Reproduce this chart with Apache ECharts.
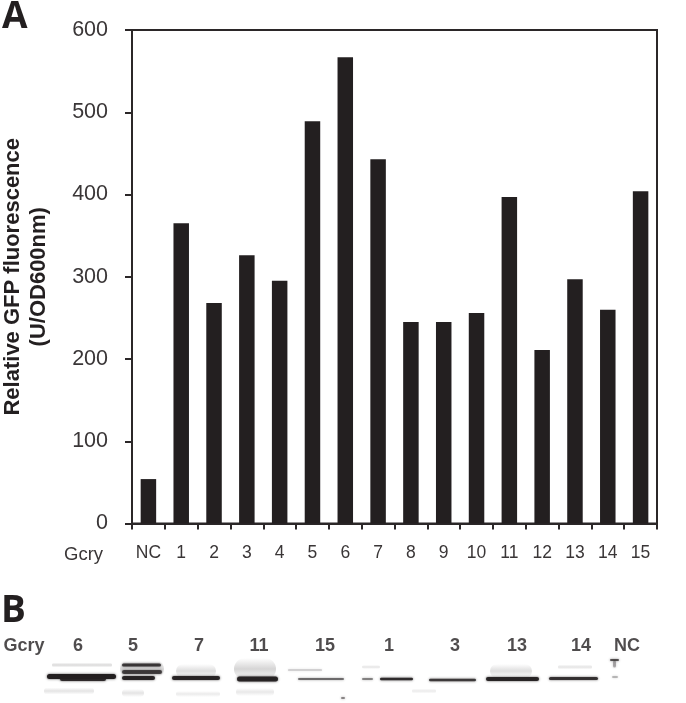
<!DOCTYPE html>
<html><head><meta charset="utf-8">
<style>html,body{margin:0;padding:0;background:#fff}#c{width:686px;height:703px}</style>
<script src="https://cdn.jsdelivr.net/npm/echarts@6/dist/echarts.min.js"></script>
</head><body><div id="c"></div>
<script>
const categories = ['NC','1','2','3','4','5','6','7','8','9','10','11','12','13','14','15'];
const fluorescence = [54,365,268,326,295,489,567,443,245,245,256,397,211,297,260,404];
const yTicks = [0,100,200,300,400,500,600];
const blotLabels = ['Gcry','6','5','7','11','15','1','3','13','14','NC'];
const blotLabelX = [24,78,133,199,259,325,389,455,517,581,627];
// blot bands: [x start, x end, y centre, thickness, opacity]
const blotBands = [
  [47,116,676.5,5,1],[60,106,679,4,.9],[52,112,665,5,.17],
  [122,161,665,3,.8],[122,162,672,4,.75],[122,155,678,4,.95],[120,164,669,16,.19],
  [172,220,678,4,.95],[176,216,671,14,.15],
  [237,278,679,5,.95],[234,276,669,22,.19],
  [298,344,679,2,.55],[288,322,670,1,.3],
  [362,373,679,1.5,.6],[380,413,679,2.5,.9],[362,380,667,4,.12],
  [429,476,680,2.5,.8],
  [486,539,679,4,.95],[490,532,671,14,.15],
  [549,598,678.5,3,.85],[558,592,667,5,.12],
  [610,619,660,2,.7],[613,616,664,7,.3],[612,618,677,2,.25],
  [44,94,691,7,.12],[122,144,693,8,.12],[176,220,694,6,.09],[236,274,692,8,.1],[341,345,698,2,.45],[412,436,691,5,.09]
];

const chart = echarts.init(document.getElementById('c'), null, {renderer:'canvas'});
const FONT = '"Liberation Sans", Arial, sans-serif';
chart.setOption({
  animation:false,
  backgroundColor:'#fff',
  grid:[
    {left:132,right:29,top:30,height:493.5,show:true,borderColor:'#2b2728',borderWidth:2,backgroundColor:'transparent',outerBoundsMode:'none'},
    {left:0,top:640,width:686,height:63,show:false,outerBoundsMode:'none'}
  ],
  xAxis:[
    {type:'category',gridIndex:0,data:categories,
     axisLine:{lineStyle:{color:'#2b2728',width:2}},
     axisTick:{show:true,length:6,alignWithLabel:false,lineStyle:{color:'#2b2728',width:2}},
     axisLabel:{color:'#3a3637',fontFamily:FONT,fontSize:17.5,margin:21,interval:0,hideOverlap:false}},
    {type:'value',gridIndex:1,min:0,max:686,show:false}
  ],
  yAxis:[
    {type:'value',gridIndex:0,min:0,max:600,interval:100,
     name:'Relative GFP fluorescence\n(U/OD600nm)',nameLocation:'middle',nameGap:80,nameMoveOverlap:false,
     nameTextStyle:{color:'#231f20',fontFamily:FONT,fontSize:22,fontWeight:'bold',lineHeight:26},
     axisLine:{show:true,lineStyle:{color:'#2b2728',width:2}},
     axisTick:{show:true,length:7,lineStyle:{color:'#2b2728',width:2}},
     axisLabel:{color:'#3a3637',fontFamily:FONT,fontSize:21.5,margin:24,customValues:yTicks},
     splitLine:{show:false}},
    {type:'value',gridIndex:1,min:640,max:703,inverse:true,show:false}
  ],
  series:[
    {type:'bar',xAxisIndex:0,yAxisIndex:0,data:fluorescence,barWidth:15.5,
     itemStyle:{color:'#231f20'}},
    {type:'custom',xAxisIndex:1,yAxisIndex:1,coordinateSystem:'cartesian2d',
     data:blotBands,silent:true,clip:false,
     renderItem:function(params,api){
       const a=api.coord([api.value(0),api.value(2)]);
       const b=api.coord([api.value(1),api.value(2)]);
       const t=api.value(3), o=api.value(4);
       const soft=o<.2;
       return {type:'rect',
         shape:{x:a[0],y:a[1]-t/2,width:b[0]-a[0],height:t,r:t/2},
         style:soft
           ? {fill:new echarts.graphic.LinearGradient(0,0,0,1,[
               {offset:0,color:'rgba(35,31,32,0)'},
               {offset:.5,color:'rgba(35,31,32,'+o+')'},
               {offset:1,color:'rgba(35,31,32,0)'}])}
           : {fill:'#231f20',opacity:o,shadowBlur:2.5,shadowColor:'rgba(35,31,32,.8)'}};
     }},
    {type:'scatter',xAxisIndex:1,yAxisIndex:1,symbolSize:0,silent:true,
     data:blotLabelX.map((x,i)=>({value:[x,646],name:blotLabels[i]})),
     label:{show:true,position:'inside',formatter:p=>p.name,color:'#231f20',
       fontFamily:FONT,fontSize:18,fontWeight:'bold'}}
  ],
  graphic:[
    {type:'text',left:2,top:-1,style:{text:'A',fill:'#231f20',font:'bold 37px "Open Sans", sans-serif'}},
    {type:'text',left:1,top:593,style:{text:'B',fill:'#231f20',font:'bold 37px "Open Sans", sans-serif'}},
    {type:'text',left:64,top:545,style:{text:'Gcry',fill:'#3a3637',font:'18.5px "Liberation Sans", Arial, sans-serif'}}
  ]
});
</script></body></html>
